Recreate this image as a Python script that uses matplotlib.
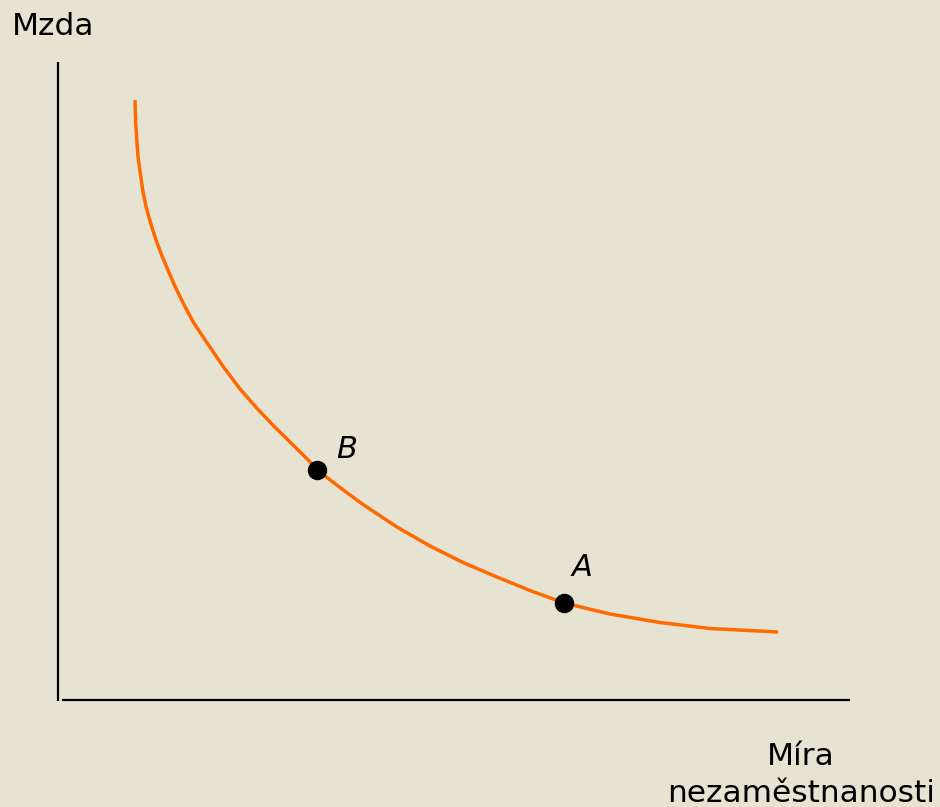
import matplotlib
matplotlib.use("Agg")
import matplotlib.pyplot as plt

# Curve (x: unemployment rate, y: wage), arbitrary units
curve_x = [77.5, 78.2, 80.5, 85.2, 88.5, 93.2, 98.5, 104.8, 111.8, 119.2, 127.5, 136.5,
           146.5, 165.8, 182.5, 199.2, 215.8, 232.5, 249.2, 259.8, 282.5, 305.5, 339.5,
           372.5, 405.5, 439.5, 472.5, 506.5, 552.5, 602.5, 652.5, 720.5]
curve_y = [600.0, 576.7, 543.3, 510.0, 493.3, 476.7, 460.0, 443.3, 426.7, 410.0, 393.3,
           376.7, 361.7, 333.3, 311.0, 292.0, 274.5, 258.0, 241.5, 230.0, 212.5, 195.5,
           173.0, 154.0, 137.5, 123.0, 109.5, 97.0, 86.0, 77.5, 71.5, 68.0]

point_labels = ["B", "A"]
point_x = [259.8, 506.5]
point_y = [230.0, 97.0]

y_label = "Mzda"
x_label = "Míra\nnezaměstnanosti"

W, H = 940, 807
bg = "#E6E3D3"
fig = plt.figure(figsize=(W / 100, H / 100), dpi=100, facecolor=bg)

left, right, top, bottom = 57.5, 850, 62, 700
ax = fig.add_axes([left / W, (H - bottom) / H, (right - left) / W, (bottom - top) / H])
ax.set_facecolor(bg)
ax.set_xlim(0, right - left)
ax.set_ylim(0, bottom - top)
for s in ax.spines.values():
    s.set_visible(False)
ax.set_xticks([])
ax.set_yticks([])

# axes lines (with the small gap at the corner)
ax.plot([0, 0], [-1, bottom - top], color="black", lw=1.6, clip_on=False, solid_capstyle="butt")
ax.plot([4.5, right - left], [0, 0], color="black", lw=1.6, clip_on=False, solid_capstyle="butt")

ax.plot(curve_x, curve_y, color="#FF6A00", lw=2.5, clip_on=False,
        solid_joinstyle="round", solid_capstyle="butt")
ax.plot(point_x, point_y, "o", color="black", ms=13, clip_on=False, zorder=5)

label_offsets = [(13.7, 8.6), (5.8, 19.4)]  # points, to text baseline-left
for lab, px, py, off in zip(point_labels, point_x, point_y, label_offsets):
    ax.annotate(lab, (px, py), xytext=off, textcoords="offset points",
                fontsize=22, style="italic", ha="left", va="baseline")

fig.text(12 / W, 1 - 35 / H, y_label, fontsize=22.5, ha="left", va="baseline")
for line, base in zip(x_label.split("\n"), [765, 802]):
    fig.text(801 / W, 1 - base / H, line, fontsize=22.5, ha="center", va="baseline")

fig.savefig("out.png", dpi=100, facecolor=bg)
